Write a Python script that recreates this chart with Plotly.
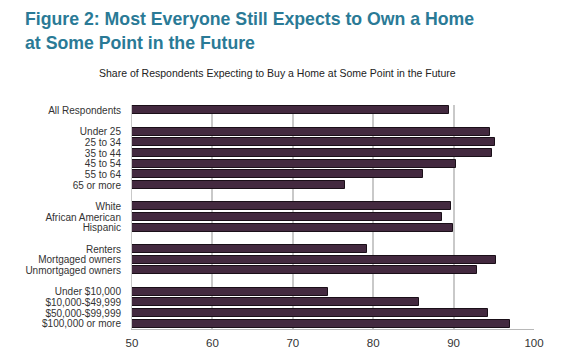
import plotly.graph_objects as go

# Data
group_all = ["All Respondents"]
vals_all = [89.4]
group_age = ["Under 25", "25 to 34", "35 to 44", "45 to 54", "55 to 64", "65 or more"]
vals_age = [94.5, 95.2, 94.8, 90.3, 86.2, 76.5]
group_race = ["White", "African American", "Hispanic"]
vals_race = [89.7, 88.5, 89.9]
group_tenure = ["Renters", "Mortgaged owners", "Unmortgaged owners"]
vals_tenure = [79.2, 95.3, 92.9]
group_income = ["Under $10,000", "$10,000-$49,999", "$50,000-$99,999", "$100,000 or more"]
vals_income = [74.4, 85.7, 94.3, 97.0]
title_lines = ["Figure 2: Most Everyone Still Expects to Own a Home", "at Some Point in the Future"]
subtitle = "Share of Respondents Expecting to Buy a Home at Some Point in the Future"

groups = [(group_all, vals_all), (group_age, vals_age), (group_race, vals_race),
          (group_tenure, vals_tenure), (group_income, vals_income)]

labels, values, pos = [], [], []
p = 0
for gi, (cats, vals) in enumerate(groups):
    if gi > 0:
        p += 1  # blank row between groups
    for c, v in zip(cats, vals):
        labels.append(c)
        values.append(v)
        pos.append(p)
        p += 1
nrows = p

BASE = 50
fig = go.Figure(go.Bar(
    x=[v - BASE for v in values], y=pos, base=BASE, orientation="h", width=0.74,
    marker=dict(color="#43293f", line=dict(color="#1a0f18", width=1)),
    customdata=values, text=labels, textposition="none",
    hovertemplate="%{text}: %{customdata}<extra></extra>",
))

H, T, B = 353, 105, 24
PH = H - T - B
def py(ypix):
    return (H - B - ypix) / PH

L, R = 132, 42
PW = 576 - L - R
def px(xpix):
    return (xpix - L) / PW

annots = [
    dict(text="<b>%s</b>" % title_lines[0], x=px(23), y=py(19)),
    dict(text="<b>%s</b>" % title_lines[1], x=px(23), y=py(43)),
]
for a in annots:
    a.update(xref="paper", yref="paper", xanchor="left", yanchor="middle", showarrow=False,
             font=dict(size=17.7, color="#2a7a96", family="Liberation Sans, Arial, sans-serif"))
annots.append(dict(
    text=subtitle, xref="paper", yref="paper", x=px(277), y=py(73),
    xanchor="center", yanchor="middle", showarrow=False,
    font=dict(size=10.5, color="#222222"),
))

fig.update_layout(
    width=576, height=H,
    margin=dict(l=L, r=R, t=T, b=B, autoexpand=False),
    paper_bgcolor="white", plot_bgcolor="white",
    showlegend=False,
    font=dict(family="Liberation Sans, Arial, sans-serif", color="#333333"),
    annotations=annots,
    xaxis=dict(
        range=[50, 100], tickvals=[50, 60, 70, 80, 90, 100],
        showgrid=True, gridcolor="#c9c9c9", gridwidth=1.5,
        zeroline=False, showline=True, linecolor="#b8b8b8", linewidth=1,
        tickfont=dict(size=11.5, color="#333333"), ticks="", ticklabelstandoff=3,
        fixedrange=True, automargin=False,
    ),
    yaxis=dict(
        range=[nrows - 0.5, -0.5], tickvals=pos, ticktext=labels,
        showgrid=False, zeroline=False, showline=True, linecolor="#c9c9c9", linewidth=1,
        tickfont=dict(size=10, color="#333333"), ticks="", ticklabelstandoff=8,
        fixedrange=True, automargin=False,
    ),
    bargap=0,
)

fig.write_html("out.html")
